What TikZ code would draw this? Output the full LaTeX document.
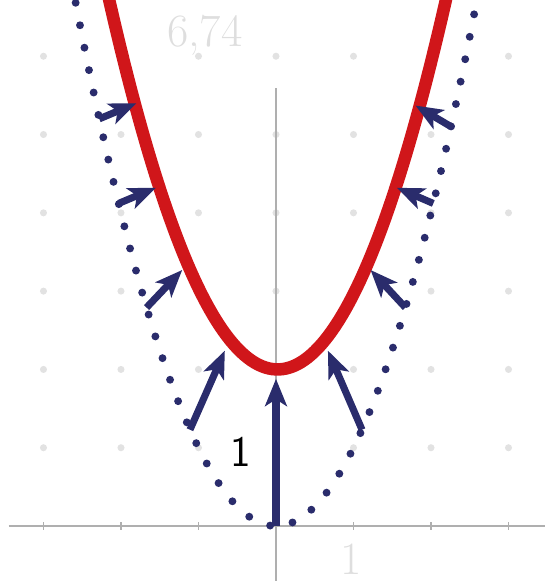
\documentclass[tikz,border=0pt]{standalone}
\usetikzlibrary{arrows.meta}
\definecolor{pred}{RGB}{208,22,26}
\definecolor{navy}{RGB}{42,44,108}
\definecolor{gridgrey}{RGB}{226,226,226}
\definecolor{textgrey}{RGB}{222,222,222}
\definecolor{axisgrey}{RGB}{175,175,175}
\begin{document}
\begin{tikzpicture}[x=1cm,y=1.0103cm,
  curve/.style={pred,line width=4.6pt},
  dotcurve/.style={navy,line width=2.9pt,line cap=round,dash pattern=on 0pt off 8.4pt},
  vec/.style={navy,line width=2.6pt,-{Stealth[length=10pt,width=8pt,inset=2.5pt]}},
  axis/.style={axisgrey,line width=0.6pt},
  faint/.style={text=textgrey,font=\fontsize{17}{17}\selectfont},
]
\useasboundingbox (-3.561,-0.702) rectangle (3.471,6.718);
\clip (-3.561,-0.702) rectangle (3.471,6.718);
\foreach \i in {-3,...,3}{\foreach \j in {1,...,6}{\fill[gridgrey] (\i,\j) circle (1.3pt);}}
\draw[axis] (-3.45,0) -- (3.471,0);
\draw[axis] (0,-0.702) -- (0,5.6);
\foreach \i in {-3,...,3}{\draw[axis] (\i,-0.05) -- (\i,0.05);}
\node[faint] (ylab) at (-0.92,6.27) {6,74};
\node[faint] (xlab) at (0.97,-0.42) {1};
\draw[dotcurve] plot[domain=-2.64:2.64,samples=120] (\x,{\x*\x});
\draw[curve] plot[domain=-2.25:2.25,samples=100] ({\x+0.02},{\x*\x+2});
\coordinate (o) at (0,0);
\coordinate (h0) at (0,1.88);
\coordinate (ta1) at (-1.11,1.23); \coordinate (ha1) at (-0.66,2.24);
\coordinate (ta2) at (1.11,1.23);  \coordinate (ha2) at (0.67,2.24);
\coordinate (tb1) at (-1.67,2.79); \coordinate (hb1) at (-1.21,3.27);
\coordinate (tb2) at (1.67,2.79);  \coordinate (hb2) at (1.22,3.27);
\coordinate (tc1) at (-2.03,4.12); \coordinate (hc1) at (-1.55,4.32);
\coordinate (tc2) at (2.03,4.12);  \coordinate (hc2) at (1.56,4.32);
\coordinate (td1) at (-2.28,5.2); \coordinate (hd1) at (-1.80,5.40);
\coordinate (td2) at (2.26,5.1);  \coordinate (hd2) at (1.80,5.37);
\draw[vec] (o) -- (h0);
\foreach \n in {a,b,c,d}{\draw[vec] (t\n1) -- (h\n1); \draw[vec] (t\n2) -- (h\n2);}
\node[font=\sffamily\fontsize{16}{16}\selectfont] (one) at (-0.46,0.95) {1};
\end{tikzpicture}
\end{document}
